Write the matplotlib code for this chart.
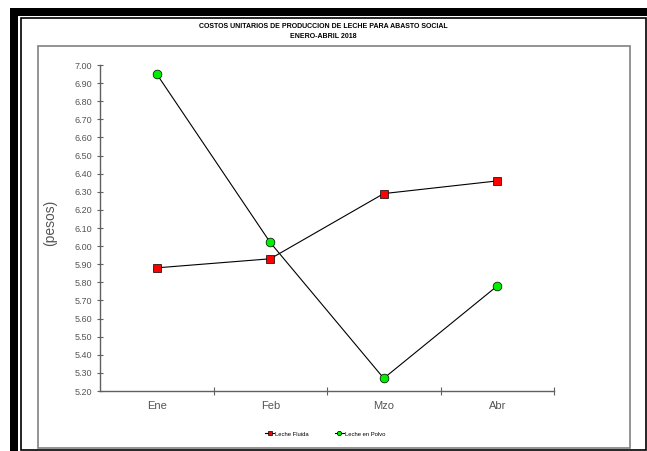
import matplotlib
matplotlib.use("Agg")
import matplotlib.pyplot as plt
from matplotlib.patches import Rectangle
from matplotlib.ticker import FixedLocator, FormatStrFormatter

plt.rcParams['font.family'] = ['Liberation Sans', 'DejaVu Sans']

# data
months = ['Ene', 'Feb', 'Mzo', 'Abr']
leche_fluida = [5.88, 5.93, 6.29, 6.36]
leche_polvo = [6.95, 6.02, 5.27, 5.78]
y_ticks = [5.20 + 0.1 * i for i in range(19)]

W, H = 647, 451
fig = plt.figure(figsize=(W / 100, H / 100), dpi=100)


def px_rect(x0, y0, x1, y1, **kw):
    # rectangle in pixel coords, origin top-left
    r = Rectangle((x0 / W, 1 - y1 / H), (x1 - x0) / W, (y1 - y0) / H,
                  transform=fig.transFigure, **kw)
    fig.add_artist(r)


# thick black frame (top and left bands)
px_rect(10, 8, W + 5, 16, facecolor='black', edgecolor='none')
px_rect(10, 8, 18, H + 5, facecolor='black', edgecolor='none')
# thin inner border
px_rect(21, 18, 645.5, 450, facecolor='none', edgecolor='black', linewidth=1.2)
# plot area box
px_rect(38, 46, 630, 448, facecolor='none', edgecolor='#808080', linewidth=1.2)

fig.text(323 / W, 1 - 27 / H, 'COSTOS UNITARIOS DE PRODUCCION DE LECHE PARA ABASTO SOCIAL',
         ha='center', va='center', fontsize=5, fontweight='bold')
fig.text(323 / W, 1 - 37 / H, 'ENERO-ABRIL 2018',
         ha='center', va='center', fontsize=5, fontweight='bold')

ax = fig.add_axes([100 / W, 1 - 391 / H, (554 - 100) / W, (391 - 65) / H])
x = list(range(len(months)))

l1, = ax.plot(x, leche_fluida, color='black', linewidth=0.8, marker='s',
              markersize=5.3, markerfacecolor='#ff0000', markeredgecolor='black',
              markeredgewidth=0.5, label='Leche Fluida', zorder=3)
l2, = ax.plot(x, leche_polvo, color='black', linewidth=0.8, marker='o',
              markersize=6.3, markerfacecolor='#00ee00', markeredgecolor='black',
              markeredgewidth=0.5, label='Leche en Polvo', zorder=3)

ax.set_xlim(-0.5, 3.5)
ax.set_ylim(5.20, 7.00)
ax.set_yticks(y_ticks)
ax.yaxis.set_major_formatter(FormatStrFormatter('%.2f'))
ax.set_xticks(x)
ax.set_xticklabels(months)
ax.xaxis.set_minor_locator(FixedLocator([0.5, 1.5, 2.5, 3.5]))

for s in ['top', 'right']:
    ax.spines[s].set_visible(False)
for s in ['left', 'bottom']:
    ax.spines[s].set_color('#606060')
    ax.spines[s].set_linewidth(1.0)

ax.tick_params(axis='y', direction='inout', length=5, width=0.8, color='#606060',
               labelsize=6.5, labelcolor='#555555', pad=3)
ax.tick_params(axis='x', which='major', length=0, labelsize=8,
               labelcolor='#555555', pad=7)
ax.tick_params(axis='x', which='minor', direction='inout', length=6, width=0.8,
               color='#606060')

fig.text(50 / W, 1 - 223 / H, '(pesos)', rotation=90, ha='center', va='center',
         fontsize=10, color='#555555')

fig.legend(handles=[l1, l2], loc='center', bbox_to_anchor=(325 / W, 1 - 434 / H),
           ncol=2, frameon=False, fontsize=4.2, handlelength=1.6,
           columnspacing=4.5, handletextpad=0.1, markerscale=0.5)

fig.savefig('out.png', dpi=100)
